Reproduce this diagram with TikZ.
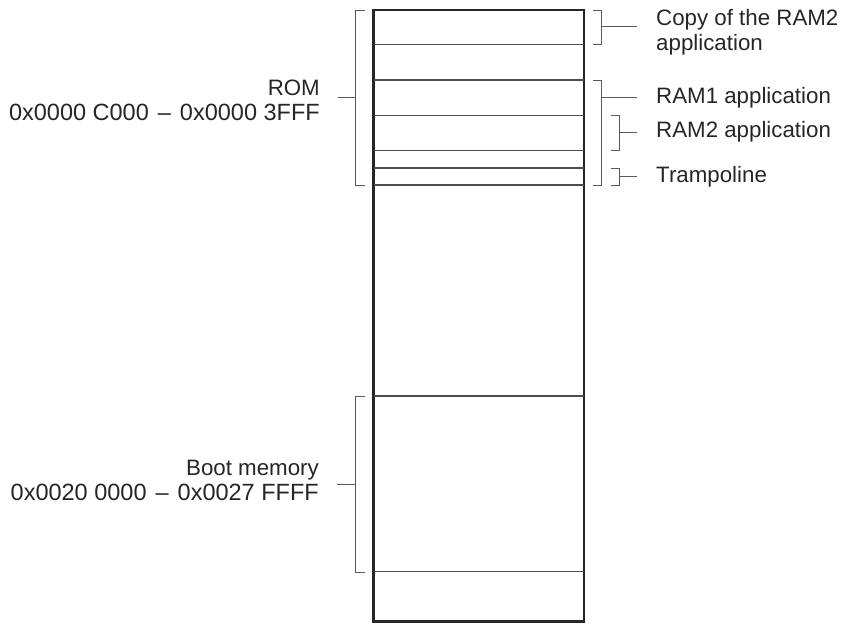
\documentclass[tikz,border=0pt]{standalone}
\usepackage{fontspec}
\setmainfont{Liberation Sans}
\newcommand{\addrfont}{\fontsize{23.5}{25}\selectfont}
\newcommand{\addrdash}{\ \hspace{2.5pt}--\hspace{2.5pt}\ }
\begin{document}
\begin{tikzpicture}[x=1pt,y=-1pt,
  outerbox/.style={line width=2.8pt,draw=black!85},
  divider/.style={line width=1.1pt,draw=black!70},
  brack/.style={line width=0.9pt,draw=black!65},
  lbl/.style={inner sep=0pt,text=black!85,font=\fontsize{22.3}{25}\selectfont}]
\useasboundingbox (0,0) rectangle (855,624);
% memory column
\draw[outerbox] (373.5,10) rectangle (584,621.5);
\foreach \yy in {44.3,80,115.3,150.3,168,185,396,571.5}
  \draw[divider] (373.5,\yy) -- (584,\yy);
% labels
\node[lbl,anchor=west,align=left] (copy) at (656,32.5) {Copy of the RAM2\\application};
\node[lbl,anchor=west] (ram1) at (656,97.3) {RAM1 application};
\node[lbl,anchor=west] (ram2) at (656,132) {RAM2 application};
\node[lbl,anchor=west] (tramp) at (656,176.5) {Trampoline};
\node[lbl,anchor=east,align=right] (rom) at (320,100.7) {ROM\\{\addrfont 0x0000 C000\addrdash 0x0000 3FFF}};
\node[lbl,anchor=east,align=right] (boot) at (319,480) {Boot memory\\{\addrfont 0x0020 0000\addrdash 0x0027 FFFF}};
% left brackets
\draw[brack] (365,10) -- (355.7,10) -- (355.7,185) -- (365,185);
\coordinate (romtick) at (355.7,97.5);
\draw[brack] ([xshift=18pt]rom.east |- romtick) -- (romtick);
\draw[brack] (365,396) -- (355.7,396) -- (355.7,572) -- (365,572);
\coordinate (boottick) at (355.7,484);
\draw[brack] ([xshift=18pt]boot.east |- boottick) -- (boottick);
% right brackets
\draw[brack] (593.3,10) -- (601.7,10) -- (601.7,44.3) -- (593.3,44.3);
\draw[brack] (601.7,26) -- ([xshift=-19pt]copy.west |- 0,26);
\draw[brack] (593.3,80) -- (601.7,80) -- (601.7,185) -- (593.3,185);
\draw[brack] (601.7,97.3) -- ([xshift=-19pt]ram1.west);
\draw[brack] (610.7,115.3) -- (619.3,115.3) -- (619.3,150.3) -- (610.7,150.3);
\draw[brack] (619.3,132.7) -- ([xshift=-19pt]ram2.west |- 0,132.7);
\draw[brack] (610.7,168) -- (619.3,168) -- (619.3,185) -- (610.7,185);
\draw[brack] (619.3,176.5) -- ([xshift=-19pt]tramp.west);
\end{tikzpicture}
\end{document}
